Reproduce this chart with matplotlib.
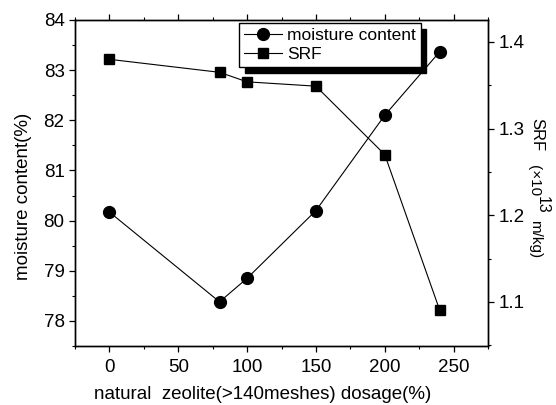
import matplotlib.pyplot as plt
from matplotlib.ticker import MultipleLocator

plt.rcParams['font.family'] = ['Liberation Sans', 'DejaVu Sans']

dosage = [0, 80, 100, 150, 200, 240]
moisture = [80.17, 78.38, 78.85, 80.2, 82.1, 83.37]
srf = [1.380, 1.365, 1.354, 1.349, 1.270, 1.090]

W, H = 556, 405
fig = plt.figure(figsize=(W / 100, H / 100), dpi=100)
ax = fig.add_axes([75/W, 1-346/H, 413/W, 326/H])
ax2 = ax.twinx()

l1, = ax.plot(dosage, moisture, '-o', color='black', lw=0.8, ms=8.5, label='moisture content')
l2, = ax2.plot(dosage, srf, '-s', color='black', lw=0.8, ms=7.5, label='SRF')

ax.set_xlim(-25, 275)
ax.set_ylim(77.5, 84)
ax2.set_ylim(1.049, 1.4254)

ax.xaxis.set_major_locator(MultipleLocator(50))
ax.xaxis.set_minor_locator(MultipleLocator(25))
ax.yaxis.set_major_locator(MultipleLocator(1))
ax.yaxis.set_minor_locator(MultipleLocator(0.5))
ax2.yaxis.set_major_locator(MultipleLocator(0.1))
ax2.yaxis.set_minor_locator(MultipleLocator(0.05))

ax.tick_params(axis='both', which='major', labelsize=13.5, length=4, width=0.9, direction='out')
ax.tick_params(axis='x', which='major', pad=5)
ax.tick_params(axis='both', which='minor', length=2.5, width=0.8, direction='out')
ax.tick_params(axis='x', top=True, which='both')
ax2.tick_params(axis='y', which='major', labelsize=13.5, length=4, width=0.9, direction='out')
ax2.tick_params(axis='y', which='minor', length=2.5, width=0.8, direction='out')
for a in (ax, ax2):
    for s in a.spines.values():
        s.set_linewidth(1.0)

ax.set_xlabel('natural  zeolite(>140meshes) dosage(%)', fontsize=13.5)
ax.xaxis.set_label_coords(0.455, -0.123)
ax.set_ylabel('moisture content(%)', fontsize=13.5)
ax.yaxis.set_label_coords(-0.104, 0.46)

# right axis label, Origin style pieces
fig.text(537/W, 1-135/H, 'SRF', rotation=270, fontsize=12, ha='center', va='center')
fig.text(534/W, 1-181/H, '(\u00d710', rotation=270, fontsize=11, ha='center', va='center')
fig.text(542/W, 1-205/H, '13', rotation=270, fontsize=11.5, ha='center', va='center')
fig.text(535/W, 1-239/H, 'm/kg)', rotation=270, fontsize=11, ha='center', va='center')

ax2.legend(handles=[l1, l2], loc='upper left', bbox_to_anchor=(164/413, 1-3/326),
           fontsize=12.5, fancybox=False, framealpha=1, edgecolor='black',
           shadow={'ox': 4, 'oy': -4, 'color': 'black', 'alpha': 1},
           handlelength=2.2, handletextpad=0.25, borderpad=0.3, labelspacing=0.2,
           borderaxespad=0)

fig.savefig('out.png', dpi=100)
